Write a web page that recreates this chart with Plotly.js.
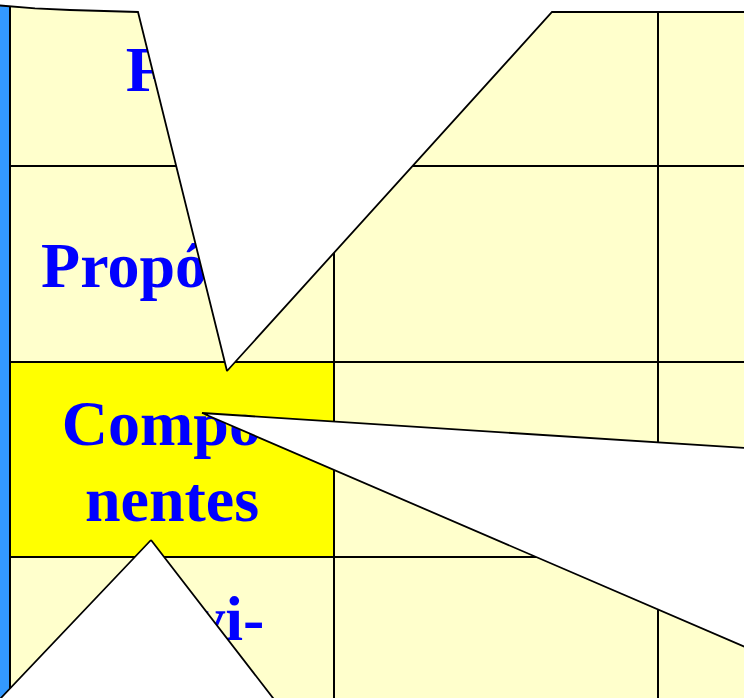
<!DOCTYPE html>
<html>
<head>
<meta charset="utf-8">
<script src="https://cdn.plot.ly/plotly-3.0.1.min.js"></script>
<style>
  html, body { margin: 0; padding: 0; background: #ffffff; }
  #myPlot { width: 744px; height: 698px; }
</style>
</head>
<body>
<div id="myPlot"></div>
<script>
// Marco lógico: one column of row labels, partly hidden by three callouts
const rowLabels = [["Fin"], ["Propósito"], ["Compo-", "nentes"], ["Activi-", "dades"]];
const labelRowCenters = [75, 271, 467, 662];
const highlightRow = 2;

// table rules (pixel units of the slide)
const colRules = [10, 334, 658];
const rowRules = [-30, 166, 362, 557, 753];

// callout bubbles (white, outlined)
const calloutTopX = [-10, -10, 0, 10, 35, 70, 105, 138, 227, 552, 760, 760];
const calloutTopY = [-10, 4.5, 5.5, 6.5, 8.3, 10, 11.2, 12, 371, 12, 12, -10];
const calloutRightX = [202, 760, 760];
const calloutRightY = [413, 449, 653.5];
const calloutBottomX = [151, 290, -20];
const calloutBottomY = [540, 720, 720];

const W = 744, H = 698;
const fontSize = 64;
const lineGap = 76;

function plotTable() {
  const data = [];

  // yellow table body
  data.push({
    x: [colRules[0], W + 20, W + 20, colRules[0]],
    y: [-20, -20, H + 20, H + 20],
    mode: "lines", fill: "toself", fillcolor: "#FFFFCC",
    line: { width: 0 }, hoverinfo: "skip",
  });

  // highlighted cell
  const r0 = rowRules[highlightRow], r1 = rowRules[highlightRow + 1];
  data.push({
    x: [colRules[0], colRules[1], colRules[1], colRules[0]],
    y: [r0, r0, r1, r1],
    mode: "lines", fill: "toself", fillcolor: "#FFFF00",
    line: { width: 0 }, hoverinfo: "skip",
  });

  // blue slide bar on the left
  data.push({
    x: [-5, 9, 9, -5],
    y: [-20, -20, H + 20, H + 20],
    mode: "lines", fill: "toself", fillcolor: "#3399FF",
    line: { width: 0 }, hoverinfo: "skip",
  });

  // grid lines
  const gx = [], gy = [];
  colRules.forEach((c) => { gx.push(c, c, null); gy.push(-20, H + 20, null); });
  rowRules.forEach((r) => { gx.push(colRules[0], W + 20, null); gy.push(r, r, null); });
  data.push({
    x: gx, y: gy, mode: "lines",
    line: { color: "#000000", width: 2 }, hoverinfo: "skip",
  });

  // row labels, one text point per line
  const tx = [], ty = [], tt = [];
  rowLabels.forEach((lines, i) => {
    const first = labelRowCenters[i] - ((lines.length - 1) * lineGap) / 2;
    lines.forEach((s, k) => {
      tx.push((colRules[0] + colRules[1]) / 2);
      ty.push(first + k * lineGap);
      tt.push(s);
    });
  });
  data.push({
    x: tx, y: ty, text: tt, mode: "text", textposition: "middle center",
    textfont: { family: "Liberation Serif, Times New Roman, serif", size: fontSize, color: "#0000FF", weight: "bold" },
    hoverinfo: "skip", cliponaxis: true,
  });

  // callouts on top
  [[calloutTopX, calloutTopY], [calloutRightX, calloutRightY], [calloutBottomX, calloutBottomY]].forEach(([cx, cy]) => {
    data.push({
      x: cx.concat([cx[0]]), y: cy.concat([cy[0]]),
      mode: "lines", fill: "toself", fillcolor: "#FFFFFF",
      line: { color: "#000000", width: 1.8 }, hoverinfo: "skip",
    });
  });

  const layout = {
    width: W, height: H,
    margin: { l: 0, r: 0, t: 0, b: 0, pad: 0 },
    paper_bgcolor: "#FFFFFF", plot_bgcolor: "#FFFFFF",
    showlegend: false,
    xaxis: { range: [0, W], visible: false, fixedrange: true },
    yaxis: { range: [H, 0], visible: false, fixedrange: true },
  };

  Plotly.newPlot("myPlot", data, layout, { displayModeBar: false, staticPlot: true });
}
document.addEventListener("DOMContentLoaded", plotTable);
</script>
</body>
</html>
